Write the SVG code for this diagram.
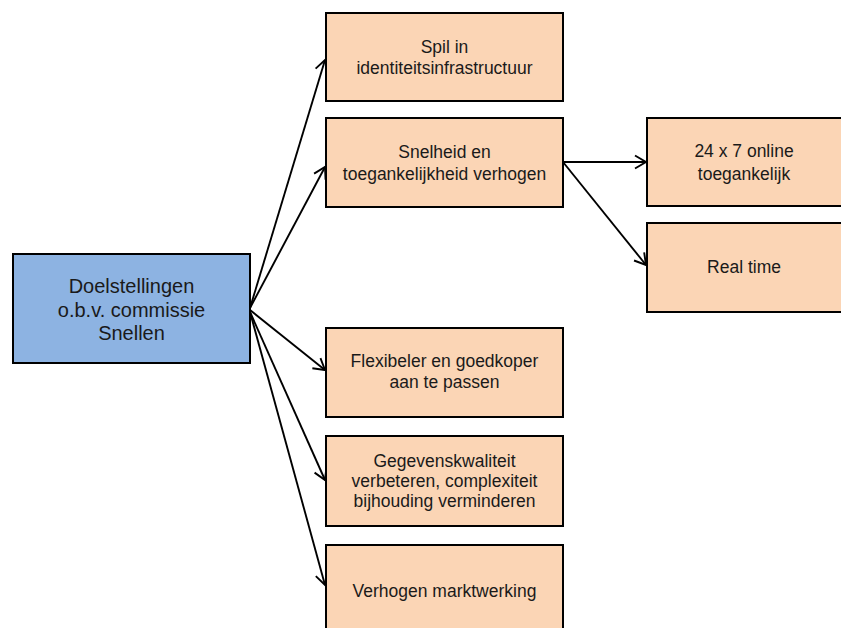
<svg xmlns="http://www.w3.org/2000/svg" width="841" height="628" viewBox="0 0 841 628">
  <defs>
    <marker id="arr" markerUnits="userSpaceOnUse" markerWidth="18" markerHeight="18" viewBox="-13 -9 15 18" refX="0" refY="0" orient="auto">
      <path d="M-11,-6.5 L0,0 L-11,6.5" fill="none" stroke="#000" stroke-width="1.9" stroke-linejoin="miter"/>
    </marker>
  </defs>
  <style>
    .box { stroke: #000; stroke-width: 2; }
    .peach { fill: #fbd5b5; }
    .blue { fill: #8db3e2; }
    .t { font-family: "Liberation Sans", Arial, sans-serif; font-size: 17.5px; fill: #1a1a1a; text-anchor: middle; }
    .tr { font-family: "Liberation Sans", Arial, sans-serif; font-size: 20px; fill: #1a1a1a; text-anchor: middle; }
    .c { fill: none; stroke: #000; stroke-width: 1.9; marker-end: url(#arr); }
  </style>
  <rect width="841" height="628" fill="#fff"/>
  <g id="connectors">
    <line class="c" x1="250" y1="308" x2="325" y2="60"/>
    <line class="c" x1="250" y1="308" x2="325" y2="167"/>
    <line class="c" x1="250" y1="310" x2="325" y2="370"/>
    <line class="c" x1="250" y1="312" x2="325" y2="480"/>
    <line class="c" x1="250" y1="312" x2="325" y2="585"/>
    <line class="c" x1="563" y1="162" x2="646" y2="162"/>
    <line class="c" x1="563" y1="162" x2="646" y2="265"/>
  </g>
  <g id="root">
    <rect class="box blue" x="13" y="254" width="237" height="109"/>
    <text class="tr" x="131.5" y="293">Doelstellingen</text>
    <text class="tr" x="131.5" y="316.5">o.b.v. commissie</text>
    <text class="tr" x="131.5" y="340">Snellen</text>
  </g>
  <g id="spil">
    <rect class="box peach" x="326" y="13" width="237" height="88"/>
    <text class="t" x="444.5" y="53">Spil in</text>
    <text class="t" x="444.5" y="74">identiteitsinfrastructuur</text>
  </g>
  <g id="snelheid">
    <rect class="box peach" x="326" y="118" width="237" height="89"/>
    <text class="t" x="444.5" y="158">Snelheid en</text>
    <text class="t" x="444.5" y="180">toegankelijkheid verhogen</text>
  </g>
  <g id="online">
    <rect class="box peach" x="647" y="118" width="196" height="88"/>
    <text class="t" x="744" y="157">24 x 7 online</text>
    <text class="t" x="744" y="180">toegankelijk</text>
  </g>
  <g id="realtime">
    <rect class="box peach" x="647" y="223" width="196" height="89"/>
    <text class="t" x="744" y="273">Real time</text>
  </g>
  <g id="flexibeler">
    <rect class="box peach" x="326" y="328" width="237" height="89"/>
    <text class="t" x="444.5" y="367">Flexibeler en goedkoper</text>
    <text class="t" x="444.5" y="388">aan te passen</text>
  </g>
  <g id="gegevens">
    <rect class="box peach" x="326" y="436" width="237" height="90"/>
    <text class="t" x="444.5" y="467">Gegevenskwaliteit</text>
    <text class="t" x="444.5" y="487">verbeteren, complexiteit</text>
    <text class="t" x="444.5" y="507">bijhouding verminderen</text>
  </g>
  <g id="marktwerking">
    <rect class="box peach" x="326" y="545" width="237" height="95"/>
    <text class="t" x="444.5" y="597">Verhogen marktwerking</text>
  </g>
</svg>
